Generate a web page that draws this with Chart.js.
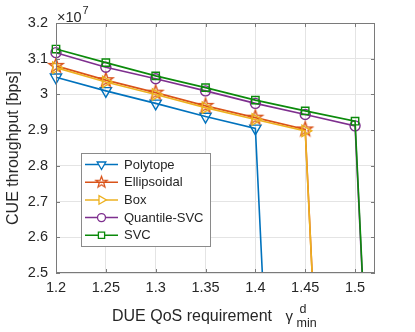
<!DOCTYPE html>
<html>
<head>
<meta charset="utf-8">
<script src="https://cdn.jsdelivr.net/npm/chart.js@4/dist/chart.umd.min.js"></script>
<style>
html,body{margin:0;padding:0;background:#fff;}
canvas{display:block;}
</style>
</head>
<body>
<canvas id="c" width="415" height="332"></canvas>
<script>
// ---- data ----
const xValues = [1.2, 1.25, 1.3, 1.35, 1.4, 1.45, 1.5, 1.55];
const polytope    = [3.048e7, 3.010e7, 2.975e7, 2.938e7, 2.905e7, 0, 0, 0];
const ellipsoidal = [3.080e7, 3.040e7, 3.005e7, 2.968e7, 2.935e7, 2.902e7, 0, 0];
const box         = [3.075e7, 3.035e7, 3.000e7, 2.963e7, 2.930e7, 2.898e7, 0, 0];
const quantileSVC = [3.117e7, 3.076e7, 3.044e7, 3.010e7, 2.975e7, 2.944e7, 2.912e7, 0];
const svc         = [3.127e7, 3.089e7, 3.052e7, 3.019e7, 2.984e7, 2.954e7, 2.925e7, 0];
const seriesNames = ['Polytope', 'Ellipsoidal', 'Box', 'Quantile-SVC', 'SVC'];
const xTicks = [1.2, 1.25, 1.3, 1.35, 1.4, 1.45, 1.5];
const xTickLabels = ['1.2', '1.25', '1.3', '1.35', '1.4', '1.45', '1.5'];
const yTicks = [2.5e7, 2.6e7, 2.7e7, 2.8e7, 2.9e7, 3.0e7, 3.1e7, 3.2e7];
const yTickLabels = ['2.5', '2.6', '2.7', '2.8', '2.9', '3', '3.1', '3.2'];

const FONT = '"Liberation Sans", Arial, Helvetica, sans-serif';
const colors = ['#0072BD', '#D95319', '#EDB120', '#7E2F8E', '#0B8A0B'];

function makeStar(outer, inner, color, lw) {
  const s = Math.ceil(outer * 2 + lw * 2 + 2);
  const cv = document.createElement('canvas');
  cv.width = s; cv.height = s;
  const g = cv.getContext('2d');
  g.beginPath();
  for (let i = 0; i < 10; i++) {
    const r = i % 2 === 0 ? outer : inner;
    const a = -Math.PI / 2 + i * Math.PI / 5;
    const px = s / 2 + r * Math.cos(a), py = s / 2 + r * Math.sin(a);
    if (i === 0) g.moveTo(px, py); else g.lineTo(px, py);
  }
  g.closePath();
  g.strokeStyle = color; g.lineWidth = lw; g.lineJoin = 'miter';
  g.stroke();
  return cv;
}
const starBig = makeStar(7.5, 3.0, colors[1], 1.4);
const starSmall = makeStar(6, 2.4, colors[1], 1.2);

const styles = [
  {pointStyle: 'triangle', rotation: 180, radius: 6.5, lr: 5},
  {pointStyle: starBig, rotation: 0, radius: 7, lr: 6, legendImg: starSmall},
  {pointStyle: 'triangle', rotation: 90, radius: 6.5, lr: 5},
  {pointStyle: 'circle', rotation: 0, radius: 5, lr: 4},
  {pointStyle: 'rect', rotation: 0, radius: 5.2, lr: 4.4}
];
const allSeries = [polytope, ellipsoidal, box, quantileSVC, svc];

const datasets = allSeries.map((vals, i) => ({
  label: seriesNames[i],
  data: xValues.map((x, j) => ({x: x, y: vals[j]})),
  borderColor: colors[i],
  backgroundColor: 'rgba(0,0,0,0)',
  borderWidth: 1.6,
  pointStyle: styles[i].pointStyle,
  rotation: styles[i].rotation,
  pointRadius: styles[i].radius,
  pointBorderWidth: 1.4,
  pointBorderColor: colors[i],
  pointBackgroundColor: 'rgba(0,0,0,0)',
  tension: 0,
  clip: {left: 10, top: 8, right: 0, bottom: 0},
  order: -i
}));

const AXIS = '#7a7a7a';
const TXT = '#262626';

const decor = {
  id: 'decor',
  afterDatasetsDraw(chart) {
    const ctx = chart.ctx, a = chart.chartArea;
    const xs = chart.scales.x, ys = chart.scales.y;
    ctx.save();
    // box
    ctx.strokeStyle = AXIS; ctx.lineWidth = 1;
    ctx.strokeRect(Math.round(a.left) + 0.5, Math.round(a.top) + 0.5,
                   Math.round(a.right - a.left) - 1, Math.round(a.bottom - a.top) - 1);
    // inward ticks
    ctx.beginPath();
    xTicks.forEach(v => {
      const px = Math.round(xs.getPixelForValue(v)) + 0.5;
      ctx.moveTo(px, a.bottom); ctx.lineTo(px, a.bottom - 4);
      ctx.moveTo(px, a.top); ctx.lineTo(px, a.top + 4);
    });
    yTicks.forEach(v => {
      const py = Math.round(ys.getPixelForValue(v)) + 0.5;
      ctx.moveTo(a.left, py); ctx.lineTo(a.left + 4, py);
      ctx.moveTo(a.right, py); ctx.lineTo(a.right - 4, py);
    });
    ctx.stroke();

    // exponent label x10^7
    ctx.fillStyle = TXT;
    ctx.textBaseline = 'alphabetic';
    ctx.textAlign = 'left';
    ctx.font = '14.5px ' + FONT;
    ctx.fillText('\u00d710', a.left + 1, a.top - 1.5);
    const w = ctx.measureText('\u00d710').width;
    ctx.font = '11px ' + FONT;
    ctx.fillText('7', a.left + 2 + w, a.top - 9);

    // y axis title
    ctx.save();
    ctx.translate(14, (a.top + a.bottom) / 2);
    ctx.rotate(-Math.PI / 2);
    ctx.font = '16px ' + FONT;
    ctx.textAlign = 'center';
    ctx.textBaseline = 'middle';
    ctx.fillText('CUE throughput [bps]', 0, 0);
    ctx.restore();

    // x axis title
    ctx.font = '16px ' + FONT;
    ctx.textAlign = 'left';
    ctx.textBaseline = 'alphabetic';
    ctx.fillText('DUE QoS requirement', 112, 320.5);
    ctx.font = '15px ' + FONT;
    ctx.fillText('\u03b3', 285.5, 321);
    ctx.font = '12.5px ' + FONT;
    ctx.fillText('d', 299.5, 313);
    ctx.fillText('min', 296.5, 327);

    // legend
    const L = {x: 81, y: 153, w: 129, h: 93};
    ctx.fillStyle = '#ffffff';
    ctx.fillRect(L.x, L.y, L.w, L.h);
    ctx.strokeStyle = '#8a8a8a';
    ctx.lineWidth = 1;
    ctx.strokeRect(L.x + 0.5, L.y + 0.5, L.w, L.h);
    const dp = (Chart.helpers && Chart.helpers.drawPoint) ? Chart.helpers.drawPoint : null;
    seriesNames.forEach((name, i) => {
      const cy = 164.5 + i * 17.7;
      ctx.strokeStyle = colors[i];
      ctx.lineWidth = 1.5;
      ctx.beginPath();
      ctx.moveTo(85, cy); ctx.lineTo(118, cy);
      ctx.stroke();
      if (styles[i].legendImg) {
        const im = styles[i].legendImg;
        ctx.drawImage(im, 101.5 - im.width / 2, cy - im.height / 2);
      } else if (dp) {
        ctx.fillStyle = '#ffffff';
        ctx.strokeStyle = colors[i];
        ctx.lineWidth = 1.3;
        dp(ctx, {pointStyle: styles[i].pointStyle, rotation: styles[i].rotation,
                 radius: styles[i].lr, borderWidth: 1.3}, 101.5, cy);
      }
      ctx.fillStyle = TXT;
      ctx.font = '13px ' + FONT;
      ctx.textAlign = 'left';
      ctx.textBaseline = 'middle';
      ctx.fillText(name, 124, cy + 0.5);
    });
    ctx.restore();
  }
};

new Chart(document.getElementById('c'), {
  type: 'line',
  data: {datasets: datasets},
  options: {
    responsive: false,
    animation: false,
    events: [],
    layout: {padding: {top: 23, right: 40, left: 0, bottom: 0}},
    plugins: {legend: {display: false}, tooltip: {enabled: false}},
    scales: {
      x: {
        type: 'linear', min: 1.2, max: 1.52,
        afterFit: s => { s.height = 59; },
        afterBuildTicks: s => { s.ticks = xTicks.map(v => ({value: v})); },
        grid: {color: '#e4e4e4', lineWidth: 1, drawTicks: false},
        border: {display: false},
        ticks: {
          padding: 6, color: TXT, maxRotation: 0, autoSkip: false,
          font: {family: FONT, size: 14.5},
          callback: (v, idx) => xTickLabels[idx]
        }
      },
      y: {
        type: 'linear', min: 2.5e7, max: 3.2e7,
        afterFit: s => { s.width = 56; },
        afterBuildTicks: s => { s.ticks = yTicks.map(v => ({value: v})); },
        grid: {color: '#e4e4e4', lineWidth: 1, drawTicks: false},
        border: {display: false},
        ticks: {
          padding: 8, color: TXT, autoSkip: false,
          font: {family: FONT, size: 14.5},
          callback: (v, idx) => yTickLabels[idx]
        }
      }
    }
  },
  plugins: [decor]
});
</script>
</body>
</html>
